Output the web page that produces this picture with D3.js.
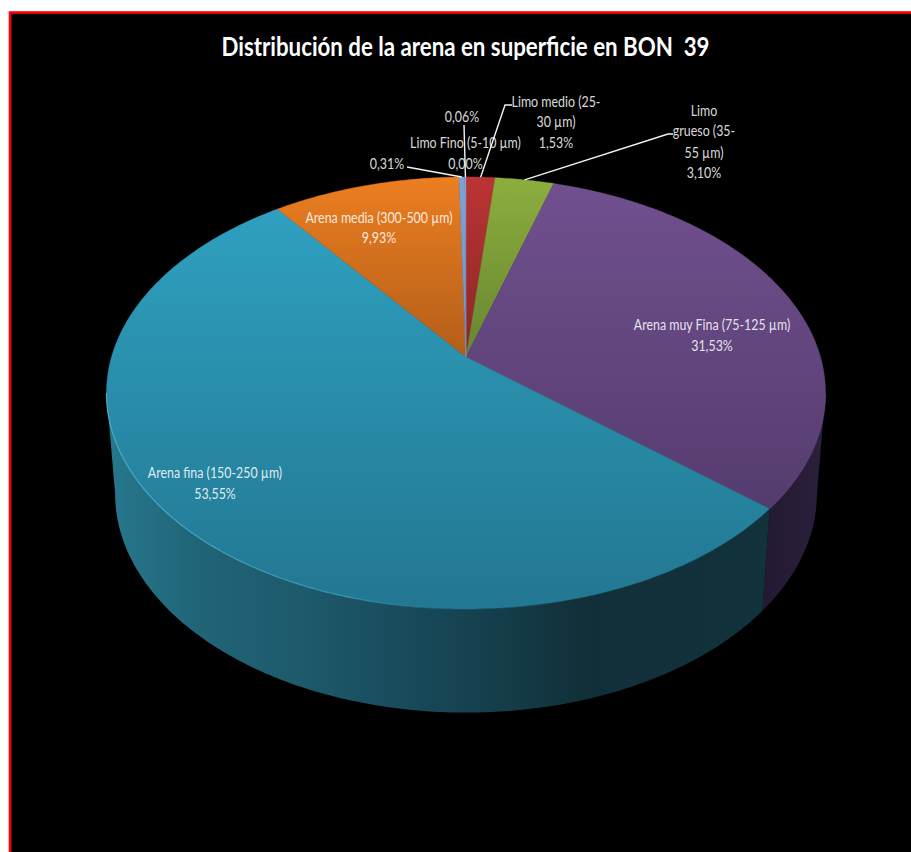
<!DOCTYPE html>
<html lang="es">
<head>
<meta charset="utf-8">
<title>Distribución de la arena</title>
<script src="https://cdn.jsdelivr.net/npm/d3@7/dist/d3.min.js"></script>
<style>
  html, body { margin: 0; padding: 0; background: #fff; }
  svg { display: block; }
  text { font-family: Lato, "Open Sans", sans-serif; }
</style>
</head>
<body>
<svg id="chart" width="911" height="852"></svg>
<script>
// Sand fractions, clockwise from twelve o'clock
const categories = [
  "Limo medio (25-30 µm)", "Limo grueso (35-55 µm)", "Arena muy Fina (75-125 µm)",
  "Arena fina (150-250 µm)", "Arena media (300-500 µm)", "", "Limo Fino (5-10 µm)", ""
];
const values = [1.53, 3.10, 31.53, 53.55, 9.93, 0.31, 0.00, 0.06];
const valueLabels = ["1,53%", "3,10%", "31,53%", "53,55%", "9,93%", "0,31%", "0,00%", "0,06%"];
const chartTitle = "Distribución de la arena en superficie en BON  39";

// Top-face gradient (upper, lower) per slice
const topColors = [
  ["#bb3434", "#8a2626"], ["#8cae3e", "#688530"], ["#70508f", "#553c6d"],
  ["#2fa0c0", "#227791"], ["#ec7e20", "#b35e1a"], ["#7fa0d2", "#7295c8"],
  ["#7fa0d2", "#7295c8"], ["#7fa0d2", "#7295c8"]
];

// Tilted-disc projection: the far rim is foreshortened, so the apex sits above the ellipse centre
const cx = 466, tilt = 1 / 6;
const topFace = { rx: 354.5, ry: 210, cy: 357 };
const baseFace = { rx: 346, ry: 213, cy: 457 };
function project(face, angle) {
  const u = Math.sin(angle), v = -Math.cos(angle), w = 1 - tilt * v;
  return [cx + face.rx * u / w, face.cy + face.ry * v / w];
}
function arcPoints(face, a0, a1) {
  const n = Math.max(2, Math.ceil(Math.abs(a1 - a0) / 0.01));
  return d3.range(n + 1).map(i => project(face, a0 + (a1 - a0) * i / n));
}

const svg = d3.select("#chart");
const defs = svg.append("defs");
const line = d3.line();
const slices = d3.pie().sort(null).value(d => d).startAngle(0).endAngle(2 * Math.PI)(values);

// Background panel and its red frame
svg.append("rect").attr("x", 10).attr("y", 12.5).attr("width", 1000).attr("height", 1000)
  .attr("fill", "#000").attr("stroke", "#f00").attr("stroke-width", 2.6);

svg.append("text").attr("x", 465.5).attr("y", 56).attr("text-anchor", "middle")
  .attr("fill", "#fff").attr("font-size", 27).attr("font-weight", 700)
  .attr("class", "narrow").attr("data-squeeze", 0.825)
  .style("white-space", "pre").text(chartTitle);

// Side wall: only the part of the rim that faces the viewer
const wallFrom = Math.PI / 2 + Math.asin(tilt), wallTo = 3 * Math.PI / 2 - Math.asin(tilt);
const wallStops = [
  [[106, "#27788e"], [200, "#206476"], [300, "#1d5a6c"], [460, "#164352"], [590, "#112f38"], [770, "#12333c"]],
  [[760, "#231931"], [826, "#2b203c"]]
];
function wallGradient(id, stops) {
  const [x0, x1] = [stops[0][0], stops[stops.length - 1][0]];
  const g = defs.append("linearGradient").attr("id", id).attr("gradientUnits", "userSpaceOnUse")
    .attr("x1", x0).attr("x2", x1).attr("y1", 0).attr("y2", 0);
  stops.forEach(s => g.append("stop").attr("offset", (s[0] - x0) / (x1 - x0)).attr("stop-color", s[1]));
}
wallGradient("wall-fina", wallStops[0]);
wallGradient("wall-muyfina", wallStops[1]);

const wallFill = { 2: "url(#wall-muyfina)", 3: "url(#wall-fina)" };
svg.append("g").selectAll("path")
  .data(slices.filter(s => s.endAngle > wallFrom && s.startAngle < wallTo && s.value > 0))
  .join("path")
  .attr("fill", s => wallFill[s.index] || "#222")
  .attr("d", s => {
    const a0 = Math.max(s.startAngle, wallFrom), a1 = Math.min(s.endAngle, wallTo);
    return line(arcPoints(topFace, a0, a1).concat(arcPoints(baseFace, a1, a0))) + "Z";
  });

// Top face, one vertical gradient per slice
const faceLayer = svg.append("g");
slices.forEach(s => {
  if (s.value === 0) return;
  const rim = arcPoints(topFace, s.startAngle, s.endAngle);
  const ys = rim.map(p => p[1]).concat(topFace.cy);
  const g = defs.append("linearGradient").attr("id", "top-" + s.index)
    .attr("gradientUnits", "userSpaceOnUse").attr("x1", 0).attr("x2", 0)
    .attr("y1", d3.min(ys)).attr("y2", d3.max(ys));
  g.append("stop").attr("offset", 0).attr("stop-color", topColors[s.index][0]);
  g.append("stop").attr("offset", 1).attr("stop-color", topColors[s.index][1]);
  faceLayer.append("path")
    .attr("d", line([[cx, topFace.cy]].concat(rim)) + "Z")
    .attr("fill", `url(#top-${s.index})`)
    .attr("stroke", `url(#top-${s.index})`).attr("stroke-width", 0.4);
});

// Bevel highlight along the front edge of the disc, fading out towards the centre
const bevelFade = defs.append("linearGradient").attr("id", "bevel-fade")
  .attr("gradientUnits", "userSpaceOnUse").attr("x1", 106).attr("x2", 450).attr("y1", 0).attr("y2", 0);
bevelFade.append("stop").attr("offset", 0).attr("stop-color", "#4ab4d2").attr("stop-opacity", 0.85);
bevelFade.append("stop").attr("offset", 0.7).attr("stop-color", "#4ab4d2").attr("stop-opacity", 0.6);
bevelFade.append("stop").attr("offset", 1).attr("stop-color", "#4ab4d2").attr("stop-opacity", 0);
const bevel = [
  { a0: 180, a1: wallTo * 180 / Math.PI, color: "url(#bevel-fade)", opacity: 1 },
  { a0: wallFrom * 180 / Math.PI, a1: 130, color: "#7b5c9c", opacity: 0.3 }
];
svg.append("g").selectAll("path").data(bevel).join("path")
  .attr("fill", "none").attr("stroke", d => d.color).attr("stroke-width", 1.2)
  .attr("opacity", d => d.opacity)
  .attr("d", d => line(arcPoints(topFace, d.a0 * Math.PI / 180, d.a1 * Math.PI / 180)));

// Leader lines run from the label elbow to the middle of the slice rim
const leaderElbows = { 0: [[512, 105], [505, 105]], 1: [[673, 134], [668, 134]], 5: [[407, 167]], 7: [[464, 125]] };
const leaders = svg.append("g");
Object.keys(leaderElbows).forEach(k => {
  const s = slices[+k];
  const end = project(topFace, (s.startAngle + s.endAngle) / 2);
  leaders.append("path").attr("d", line(leaderElbows[k].concat([end])))
    .attr("fill", "none").attr("stroke", "#f2f2f2").attr("stroke-width", 1.4);
});

// Label blocks: wrapped category lines followed by the value
const labelLines = [
  ["Limo medio (25-", "30 µm)", valueLabels[0]],
  ["Limo", "grueso (35-", "55 µm)", valueLabels[1]],
  [categories[2], valueLabels[2]],
  [categories[3], valueLabels[3]],
  [categories[4], valueLabels[4]],
  [valueLabels[5]],
  [categories[6], valueLabels[6]],
  [valueLabels[7]]
];
const labelAnchor = [
  [556, [107, 127, 148]],
  [704, [116, 136, 158, 178]],
  [712, [330, 351]],
  [215, [478, 499]],
  [379, [223, 243]],
  [387, [169]],
  [465.5, [148, 169]],
  [462, [122]]
];
const labels = svg.append("g").attr("fill", "#fff").attr("font-size", 15.5).attr("text-anchor", "middle");
labelLines.forEach((lines, i) => {
  lines.forEach((t, j) => {
    labels.append("text").attr("class", "narrow").attr("data-squeeze", 0.8)
      .attr("x", labelAnchor[i][0]).attr("y", labelAnchor[i][1][j])
      .attr("fill-opacity", 0.86).text(t);
  });
});

// Condense the humanist face to the proportions of the chart lettering
svg.selectAll("text.narrow").each(function () {
  const natural = this.getComputedTextLength();
  d3.select(this).attr("textLength", natural * +this.getAttribute("data-squeeze"))
    .attr("lengthAdjust", "spacingAndGlyphs");
});
</script>
</body>
</html>
